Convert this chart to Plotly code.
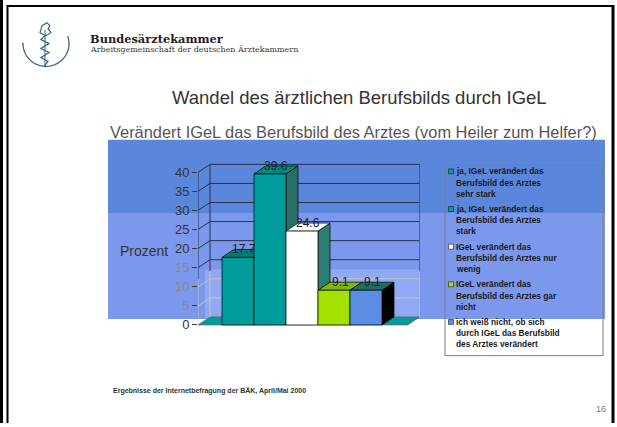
import math
import plotly.graph_objects as go

W, H = 617, 427

# ---------------- data ----------------
categories = [
    "ja, IGeL verändert das<br>Berufsbild des Arztes<br>sehr stark",
    "ja, IGeL verändert das<br>Berufsbild des Arztes<br>stark",
    "IGeL verändert das<br>Berufsbild des Arztes nur<br>wenig",
    "IGeL verändert das<br>Berufsbild des Arztes gar<br>nicht",
    "ich weiß nicht, ob sich<br>durch IGeL das Berufsbild<br>des Arztes verändert",
]
values = [17.7, 39.6, 24.6, 9.1, 9.1]
value_labels = ["17.7", "39.6", "24.6", "9.1", "9.1"]
tick_values = [0, 5, 10, 15, 20, 25, 30, 35, 40]
tick_labels = ["0", "5", "10", "15", "20", "25", "30", "35", "40"]

front_colors = ["#009b9b", "#009b9b", "#ffffff", "#a2e000", "#5b8de3"]
top_colors = ["#007c74", "#008a82", "#ffffff", "#80b800", "#1f6e62"]
side_colors = ["#2a6e66", "#2a6e66", "#2e7d72", "#6d9a00", "#000000"]

# ---------------- geometry ----------------
X0, X1 = -1.25, 5.3        # front floor extent (category units)
DX, DY = 0.375, 2.1        # depth offset (x units, value units)
YTOP = 40
PXX, PXY = 32.0, 3.85      # pixels per unit
AX_LEFT_PX, Y0_PX = 198, 328
YLO, YHI = -1.0, 44.0


def px(x):
    return x / W


def py(y):
    return 1 - y / H


fig = go.Figure()

FONT = "Liberation Sans, Arial, sans-serif"

# floor
fig.add_trace(go.Scatter(
    x=[X0, X1, X1 + DX, X0 + DX, X0], y=[0, 0, DY, DY, 0],
    mode="lines", fill="toself", fillcolor="#009b9b",
    line=dict(color="#6a6a6a", width=0.8), hoverinfo="skip", showlegend=False))

# wall grid lines
split = 12.0
dark_x, dark_y, light_x, light_y = [], [], [], []
for k in tick_values[1:]:
    xs = [X0, X0 + DX, X1 + DX, None]
    ys = [k, k + DY, k + DY, None]
    if k >= 15:
        dark_x += xs; dark_y += ys
    else:
        light_x += xs; light_y += ys
for xv, off in [(X0, 0), (X0 + DX, DY), (X1 + DX, DY)]:
    light_x += [xv, xv, None]; light_y += [off, split + off, None]
    dark_x += [xv, xv, None]; dark_y += [split + off, YTOP + off, None]

fig.add_trace(go.Scatter(x=light_x, y=light_y, mode="lines",
                         line=dict(color="#c4c4c4", width=1),
                         hoverinfo="skip", showlegend=False))
fig.add_trace(go.Scatter(x=dark_x, y=dark_y, mode="lines",
                         line=dict(color="#27324a", width=1),
                         hoverinfo="skip", showlegend=False))

# 3D bars
for i, v in enumerate(values):
    l, r = i - 0.5, i + 0.5
    fig.add_trace(go.Scatter(
        x=[r, r + DX, r + DX, r, r], y=[0, DY, v + DY, v, 0],
        mode="lines", fill="toself", fillcolor=side_colors[i],
        line=dict(color="#000000", width=0.7), hoverinfo="skip", showlegend=False))
    fig.add_trace(go.Scatter(
        x=[l, r, r + DX, l + DX, l], y=[v, v, v + DY, v + DY, v],
        mode="lines", fill="toself", fillcolor=top_colors[i],
        line=dict(color="#000000", width=0.7), hoverinfo="skip", showlegend=False))
    fig.add_trace(go.Scatter(
        x=[l, r, r, l, l], y=[0, 0, v, v, 0],
        mode="lines", fill="toself", fillcolor=front_colors[i],
        line=dict(color="#000000", width=0.7), hoverinfo="skip", showlegend=False))

annotations = []
for i, v in enumerate(values):
    annotations.append(dict(x=i + DX * 0.5, y=v + DY, xref="x", yref="y",
                            text=value_labels[i], showarrow=False,
                            font=dict(family=FONT, size=12, color="#1e1e1e"),
                            xanchor="center", yanchor="middle"))

x_right = X1 + DX
fig.update_layout(
    width=W, height=H, autosize=False,
    margin=dict(l=0, r=0, t=0, b=0),
    paper_bgcolor="white", plot_bgcolor="rgba(0,0,0,0)",
    showlegend=False,
    xaxis=dict(range=[X0, x_right], visible=False,
               domain=[px(AX_LEFT_PX), px(AX_LEFT_PX + (x_right - X0) * PXX)]),
    yaxis=dict(range=[YLO, YHI],
               domain=[py(Y0_PX - YLO * PXY), py(Y0_PX - YHI * PXY)],
               tickvals=tick_values,
               ticktext=[(f"<span style='color:#8a8a8a'>{t}</span>" if 0 < val < 20 else t)
                         for t, val in zip(tick_labels, tick_values)],
               ticks="outside", ticklen=5, tickcolor="#3a3a3a", tickwidth=1,
               showgrid=False, zeroline=False, showline=False,
               tickfont=dict(family=FONT, size=13, color="#333333")),
)

shapes = []
# background bands
shapes.append(dict(type="rect", xref="paper", yref="paper", layer="below",
                   x0=px(108), x1=px(605), y0=py(215), y1=py(141),
                   fillcolor="#5a87dc", line=dict(width=0)))
shapes.append(dict(type="rect", xref="paper", yref="paper", layer="below",
                   x0=px(108), x1=px(605), y0=py(322), y1=py(215),
                   fillcolor="#7b98ec", line=dict(width=0)))
shapes.append(dict(type="rect", xref="paper", yref="paper", layer="below",
                   x0=px(205), x1=px(420), y0=py(321), y1=py(272),
                   fillcolor="#91a9f2", line=dict(width=0)))

# legend box
LX0, LX1, LY0, LY1 = 445, 603, 167, 359
shapes.append(dict(type="rect", xref="paper", yref="paper",
                   x0=px(LX0), x1=px(LX1), y0=py(LY1), y1=py(LY0),
                   line=dict(color="#7f7f7f", width=1), fillcolor="rgba(0,0,0,0)"))
entry_top = [173, 211, 249, 287, 325]
line_h = 11.3
for i, cat in enumerate(categories):
    y0 = entry_top[i]
    shapes.append(dict(type="rect", xref="paper", yref="paper",
                       x0=px(448.5), x1=px(453.5), y0=py(y0 + 2.5), y1=py(y0 - 2.5),
                       fillcolor=front_colors[i], line=dict(color="#202020", width=0.6)))
    for j, ln in enumerate(cat.split("<br>")):
        annotations.append(dict(x=px(453.5), y=py(y0 + j * line_h), xref="paper", yref="paper",
                                text=f"<b>{ln}</b>", showarrow=False,
                                xanchor="left", yanchor="middle",
                                font=dict(family=FONT, size=8.3, color="#1a1a1a")))

# slide frame
for (x0, y0, x1, y1, w) in [(1.5, 0, 1.5, 427, 3), (7.5, 5, 7.5, 427, 2),
                            (7, 6, 614, 6, 2), (613, 5, 613, 427, 3)]:
    shapes.append(dict(type="line", xref="paper", yref="paper",
                       x0=px(x0), y0=py(y0), x1=px(x1), y1=py(y1),
                       line=dict(color="#000000", width=w)))

# logo
cx, cy, rr = 46, 44, 23
pts = []
n = 40
a0, a1 = math.radians(183), math.radians(-19)
for k in range(n + 1):
    a = a0 + (a1 - a0) * k / n
    pts.append((cx + rr * math.cos(a), cy + rr * math.sin(a)))
path = "M " + " L ".join(f"{px(x):.5f},{py(y):.5f}" for x, y in pts)
shapes.append(dict(type="path", xref="paper", yref="paper", path=path,
                   line=dict(color="#3f6488", width=1.3)))
snake = [(45, 36), (41, 40), (49, 44), (41, 49), (49, 53), (41, 58), (48, 62), (44, 67)]
spath = "M " + " L ".join(f"{px(x):.5f},{py(y):.5f}" for x, y in snake)
shapes.append(dict(type="path", xref="paper", yref="paper", path=spath,
                   line=dict(color="#3f6488", width=1.3)))
staff = [(45, 30), (45, 68)]
shapes.append(dict(type="path", xref="paper", yref="paper",
                   path="M " + " L ".join(f"{px(x):.5f},{py(y):.5f}" for x, y in staff),
                   line=dict(color="#3f6488", width=1.0)))
head = [(40, 33), (42, 26), (47, 23), (50, 26), (48, 29), (51, 33), (46, 36), (40, 33)]
shapes.append(dict(type="path", xref="paper", yref="paper",
                   path="M " + " L ".join(f"{px(x):.5f},{py(y):.5f}" for x, y in head) + " Z",
                   line=dict(color="#3f6488", width=1.2)))


def text(x, y, s, size, color, anchor="center", family=FONT):
    annotations.append(dict(x=px(x), y=py(y), xref="paper", yref="paper", text=s,
                            showarrow=False, xanchor=anchor, yanchor="middle",
                            font=dict(family=family, size=size, color=color)))


text(88, 39, "<b>Bundesärztekammer</b>", 11.4, "#222222", "left", "DejaVu Serif, serif")
text(88, 50, "Arbeitsgemeinschaft der deutschen Ärztekammern", 8, "#333333", "left",
     "DejaVu Serif, serif")
text(360, 98, "Wandel des ärztlichen Berufsbilds durch IGeL", 18.5, "#333333")
text(353, 133, "Verändert IGeL das Berufsbild des Arztes (vom Heiler zum Helfer?)", 16.4, "#555555")
text(144, 253, "Prozent", 14, "#333333")
text(111, 395, "<b>Ergebnisse der Internetbefragung der BÄK, April/Mai 2000</b>", 7, "#333333", "left")
text(601, 413, "16", 9, "#777777")

fig.update_layout(shapes=shapes, annotations=annotations)
fig.write_html("out.html", config={"displayModeBar": False},
               post_script="document.body.style.margin='0';")
